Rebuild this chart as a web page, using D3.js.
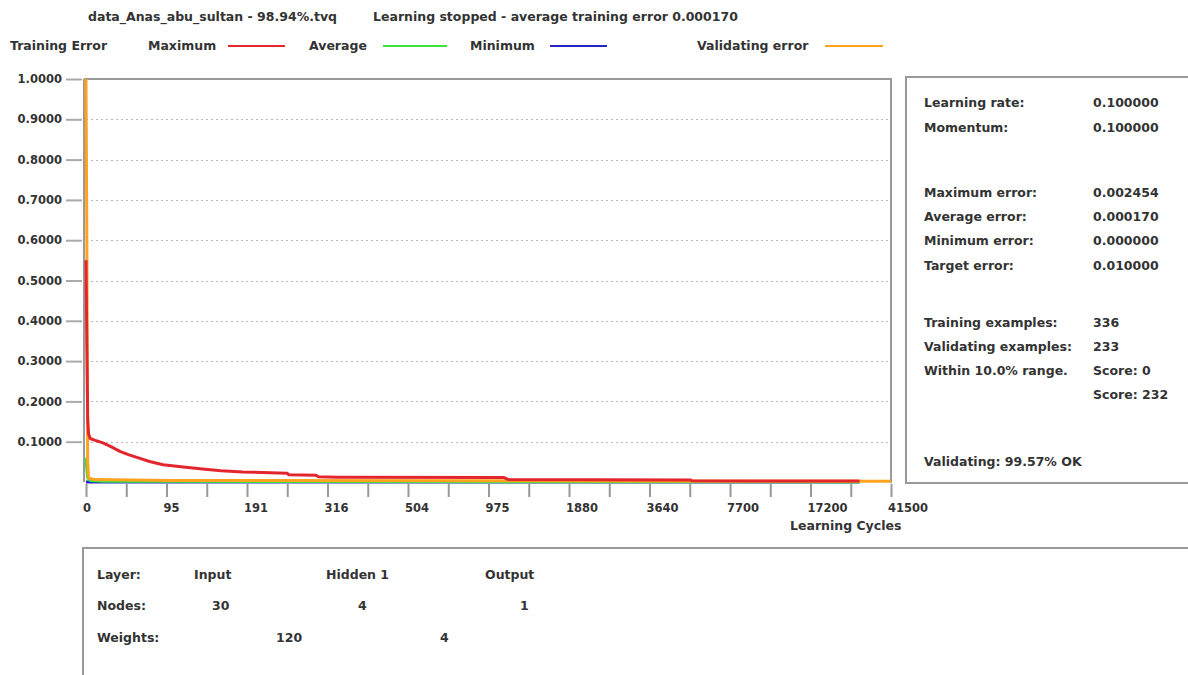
<!DOCTYPE html>
<html>
<head>
<meta charset="utf-8">
<script src="https://cdn.jsdelivr.net/npm/d3@7"></script>
<style>
  body { margin: 0; background: #fff; }
  svg text { font-family: "DejaVu Sans", Verdana, sans-serif; font-size: 12.5px; font-weight: bold; fill: #333; }
  svg .tick-label { font-size: 11.5px; }
</style>
</head>
<body>
<svg id="chart" width="1188" height="675"></svg>
<script>
// x axis labels (learning cycles, non linear axis)
var cycleTicks = [0, 95, 191, 316, 504, 975, 1880, 3640, 7700, 17200, 41500];
var errorTicks = [0.1, 0.2, 0.3, 0.4, 0.5, 0.6, 0.7, 0.8, 0.9, 1.0];

// training error, maximum  [cycle, error]
var maxError = [[0, 0.55], [1, 0.34], [2, 0.16], [3, 0.12], [5, 0.108], [10, 0.104], [20, 0.097],
  [30, 0.087], [40, 0.076], [50, 0.068], [60, 0.061], [75, 0.051], [91, 0.043], [115, 0.037],
  [138, 0.032], [160, 0.028], [186, 0.025], [227, 0.023], [253, 0.022], [256, 0.018], [298, 0.017],
  [302, 0.013], [340, 0.012], [1150, 0.011], [1200, 0.006], [5700, 0.005], [5800, 0.003], [32000, 0.0025]];
// training error, average
var avgError = [[0, 0.06], [1, 0.03], [2, 0.01], [5, 0.004], [20, 0.002], [300, 0.001], [32000, 0.0002]];
// training error, minimum
var minError = [[0, 0], [32000, 0]];
// validating error
var valError = [[0, 1.0], [1, 0.6], [2, 0.05], [3, 0.01], [10, 0.006], [100, 0.004], [1000, 0.003],
  [10000, 0.002], [41500, 0.002]];

var titleParts = ['data_Anas_abu_sultan - 98.94%.tvq', 'Learning stopped - average training error 0.000170'];

var legendItems = [
  { name: 'Maximum', color: '#e3262e' },
  { name: 'Average', color: '#3ee23e' },
  { name: 'Minimum', color: '#2626c8' },
  { name: 'Validating error', color: '#ffa21f' }
];

var statLabels = ['Learning rate:', 'Momentum:', 'Maximum error:', 'Average error:', 'Minimum error:',
  'Target error:', 'Training examples:', 'Validating examples:', 'Within 10.0% range.', '', 'Validating: 99.57% OK'];
var statValues = ['0.100000', '0.100000', '0.002454', '0.000170', '0.000000',
  '0.010000', '336', '233', 'Score: 0', 'Score: 232', ''];

var layerNames = ['Input', 'Hidden 1', 'Output'];
var layerNodes = [30, 4, 1];
var layerWeights = [120, 4];

var svg = d3.select('#chart');

var plot = { left: 86, right: 891, top: 79, bottom: 482 };

// piecewise linear x scale: every label is equally spaced
var xPos = d3.scalePoint().domain(d3.range(cycleTicks.length)).range([plot.left, plot.right]);
var x = d3.scaleLinear()
  .domain(cycleTicks)
  .range(cycleTicks.map(function(d, i) { return xPos(i); }));
var y = d3.scaleLinear().domain([0, 1]).range([plot.bottom, plot.top]);

//Title
svg.append('text').attr('x', 88).attr('y', 21).text(titleParts[0]);
svg.append('text').attr('x', 373).attr('y', 21).text(titleParts[1]);

//Legend
svg.append('text').attr('x', 10).attr('y', 50).text('Training Error');
var legendX = [148, 309, 470, 697];
var lineX = [228, 383, 550, 825];
var lineW = [57, 64, 57, 58];
legendItems.forEach(function(item, i) {
  svg.append('text').attr('x', legendX[i]).attr('y', 50).text(item.name);
  svg.append('line')
    .attr('x1', lineX[i]).attr('x2', lineX[i] + lineW[i])
    .attr('y1', 46).attr('y2', 46)
    .attr('stroke', item.color).attr('stroke-width', 2);
});

//Grid
svg.append('g').selectAll('line')
  .data(errorTicks.filter(function(d) { return d < 1; }))
  .enter().append('line')
  .attr('x1', plot.left).attr('x2', plot.right - 2)
  .attr('y1', function(d) { return Math.round(y(d)) + 0.5; })
  .attr('y2', function(d) { return Math.round(y(d)) + 0.5; })
  .attr('stroke', '#bbb').attr('stroke-dasharray', '2,3');

//Plot frame
svg.append('path')
  .attr('d', 'M' + (plot.left - 2) + ',' + plot.top + 'H' + plot.right + 'V' + (plot.bottom + 1))
  .attr('fill', 'none').attr('stroke', '#999').attr('stroke-width', 2);
svg.append('line')
  .attr('x1', plot.left - 2).attr('x2', plot.left - 2)
  .attr('y1', plot.top).attr('y2', plot.bottom)
  .attr('stroke', '#999').attr('stroke-width', 2);

//Y axis
var yAxis = svg.append('g')
  .attr('transform', 'translate(' + (plot.left - 4) + ',0)')
  .call(d3.axisLeft(y).tickValues(errorTicks).tickSize(16).tickPadding(4).tickFormat(d3.format('.4f')));
yAxis.select('.domain').remove();
yAxis.selectAll('.tick line').attr('stroke', '#aaa').attr('stroke-width', 2);
yAxis.selectAll('.tick text').attr('class', 'tick-label').attr('fill', null).attr('font-size', null).attr('font-family', null);

//X axis, major ticks with labels plus a minor tick between
var minorTicks = d3.pairs(cycleTicks).map(function(p) { return (p[0] + p[1]) / 2; });
var xAxis = svg.append('g')
  .attr('transform', 'translate(0,' + (plot.bottom + 2) + ')')
  .call(d3.axisBottom(x).tickValues(cycleTicks.concat(minorTicks)).tickSize(13).tickFormat(''));
xAxis.select('.domain').remove();
xAxis.selectAll('.tick line').attr('stroke', '#999').attr('stroke-width', 2);

svg.append('g').selectAll('text')
  .data(cycleTicks)
  .enter().append('text')
  .attr('class', 'tick-label')
  .attr('x', function(d) { return x(d) - 3; })
  .attr('y', 512)
  .text(function(d) { return d; });

svg.append('text').attr('x', 790).attr('y', 530).text('Learning Cycles');

//Series
var line = d3.line()
  .x(function(d) { return x(d[0]); })
  .y(function(d) { return y(d[1]); });

[[minError, legendItems[2].color], [avgError, legendItems[1].color],
 [valError, legendItems[3].color], [maxError, legendItems[0].color]].forEach(function(s) {
  svg.append('path')
    .datum(s[0])
    .attr('d', line)
    .attr('fill', 'none')
    .attr('stroke', s[1])
    .attr('stroke-width', 3)
    .attr('stroke-linejoin', 'round');
});

//Stats panel
svg.append('rect')
  .attr('x', 906).attr('y', 77).attr('width', 320).attr('height', 406)
  .attr('fill', 'none').attr('stroke', '#999').attr('stroke-width', 2);

var statY = [107, 132, 197, 221, 245, 270, 327, 351, 375, 399, 466];
var stats = svg.append('g');
statLabels.forEach(function(label, i) {
  if (label) stats.append('text').attr('x', 924).attr('y', statY[i]).text(label);
  if (statValues[i]) stats.append('text').attr('x', 1093).attr('y', statY[i]).text(statValues[i]);
});

//Network panel
svg.append('rect')
  .attr('x', 83).attr('y', 548).attr('width', 1200).attr('height', 160)
  .attr('fill', 'none').attr('stroke', '#999').attr('stroke-width', 2);

var layerX = [194, 326, 485];
var nodeX = [212, 358, 520];
var weightX = [276, 440];

svg.append('text').attr('x', 97).attr('y', 579).text('Layer:');
svg.append('text').attr('x', 97).attr('y', 610).text('Nodes:');
svg.append('text').attr('x', 97).attr('y', 642).text('Weights:');

layerNames.forEach(function(n, i) {
  svg.append('text').attr('x', layerX[i]).attr('y', 579).text(n);
  svg.append('text').attr('x', nodeX[i]).attr('y', 610).text(layerNodes[i]);
});
layerWeights.forEach(function(w, i) {
  svg.append('text').attr('x', weightX[i]).attr('y', 642).text(w);
});
</script>
</body>
</html>
